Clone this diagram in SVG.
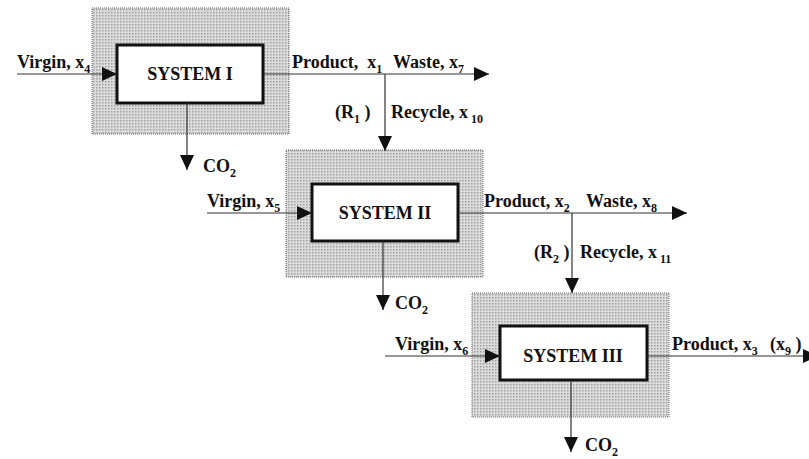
<svg xmlns="http://www.w3.org/2000/svg" width="809" height="459" viewBox="0 0 809 459">
<style>
text{font-family:"Liberation Serif","Times New Roman",serif;font-weight:bold;fill:#111;white-space:pre}
.lbl{font-size:18px}
.sys{font-size:18px}
.sub{font-size:12px}
.shade{fill:url(#dots);stroke:#6a6a6a;stroke-width:1;stroke-dasharray:1 1}
.box{fill:#fff;stroke:#111;stroke-width:3}
.flow{stroke:#333;stroke-width:1.2;fill:none;marker-end:url(#ah)}
</style>
<defs>
<pattern id="dots" width="3" height="3" patternUnits="userSpaceOnUse">
<rect width="3" height="3" fill="#dcdcdc"/>
<rect width="1.5" height="1.5" fill="#a0a0a0"/>
</pattern>
<marker id="ah" markerUnits="userSpaceOnUse" markerWidth="16" markerHeight="14" refX="15" refY="7" orient="auto">
<path d="M0,0 L15,7 L0,14 Z" fill="#111"/>
</marker>
</defs>
<rect width="809" height="459" fill="#fff"/>

<g id="system1">
<rect class="shade" x="92" y="8" width="197" height="126"/>
<rect class="box" x="117" y="45" width="146" height="58"/>
<text class="sys" x="190" y="80" text-anchor="middle">SYSTEM I</text>
</g>
<g id="system2">
<rect class="shade" x="286" y="150" width="197" height="127"/>
<rect class="box" x="312" y="184" width="146" height="57"/>
<text class="sys" x="385" y="219" text-anchor="middle">SYSTEM II</text>
</g>
<g id="system3">
<rect class="shade" x="472" y="293" width="197" height="124"/>
<rect class="box" x="500" y="326" width="147" height="54"/>
<text class="sys" x="573" y="362" text-anchor="middle">SYSTEM III</text>
</g>

<g id="connectors">
<line class="flow" x1="17" y1="74" x2="117" y2="74"/>
<line class="flow" x1="263" y1="74" x2="489" y2="74"/>
<line class="flow" x1="385" y1="74" x2="385" y2="151"/>
<line class="flow" x1="187" y1="103" x2="187" y2="170"/>
<line class="flow" x1="207" y1="213" x2="312" y2="213"/>
<line class="flow" x1="458" y1="213" x2="687" y2="213"/>
<line class="flow" x1="572" y1="213" x2="572" y2="293"/>
<line class="flow" x1="383" y1="241" x2="383" y2="310"/>
<line class="flow" x1="385" y1="356" x2="500" y2="356"/>
<line class="flow" x1="647" y1="356" x2="818" y2="356"/>
<line class="flow" x1="571" y1="380" x2="571" y2="452"/>
</g>

<g id="labels" xml:space="preserve">
<text class="lbl" x="17" y="68">Virgin, x<tspan class="sub" dy="5">4</tspan></text>
<text class="lbl" x="292" y="68">Product,  x<tspan class="sub" dy="5">1</tspan></text>
<text class="lbl" x="393" y="68">Waste, x<tspan class="sub" dy="5">7</tspan></text>
<text class="lbl" x="335" y="118">(R<tspan class="sub" dy="5">1</tspan><tspan dy="-5"> )</tspan></text>
<text class="lbl" x="391" y="118">Recycle, x<tspan class="sub" dy="5"> 10</tspan></text>
<text class="lbl" x="203" y="172">CO<tspan class="sub" dy="5">2</tspan></text>

<text class="lbl" x="207" y="207">Virgin, x<tspan class="sub" dy="5">5</tspan></text>
<text class="lbl" x="484" y="207">Product, x<tspan class="sub" dy="5">2</tspan></text>
<text class="lbl" x="586" y="207">Waste, x<tspan class="sub" dy="5">8</tspan></text>
<text class="lbl" x="534" y="258">(R<tspan class="sub" dy="5">2</tspan><tspan dy="-5"> )</tspan></text>
<text class="lbl" x="580" y="258">Recycle, x<tspan class="sub" dy="5"> 11</tspan></text>
<text class="lbl" x="395" y="309">CO<tspan class="sub" dy="5">2</tspan></text>

<text class="lbl" x="395" y="350">Virgin, x<tspan class="sub" dy="5">6</tspan></text>
<text class="lbl" x="672" y="350">Product, x<tspan class="sub" dy="5">3</tspan></text>
<text class="lbl" x="770" y="350">(x<tspan class="sub" dy="5">9</tspan><tspan dy="-5"> )</tspan></text>
<text class="lbl" x="585" y="451">CO<tspan class="sub" dy="5">2</tspan></text>
</g>
</svg>
